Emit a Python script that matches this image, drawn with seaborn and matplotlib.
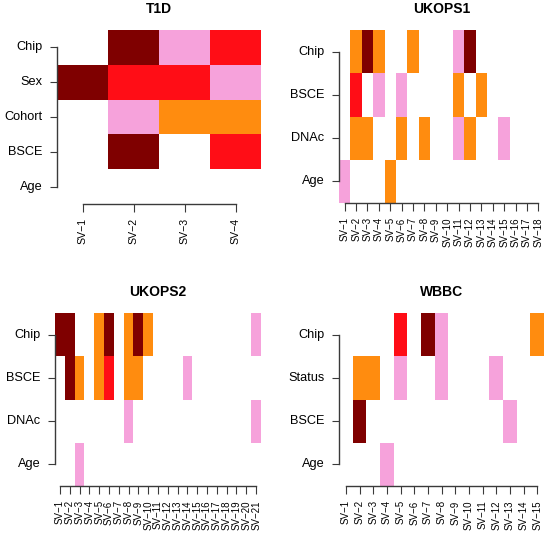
import matplotlib
matplotlib.use("Agg")
import matplotlib.pyplot as plt
import numpy as np
import seaborn as sns
from matplotlib.colors import ListedColormap

plt.rcParams['font.family'] = ['Liberation Sans', 'DejaVu Sans']

# levels: 0 = none, 1 = pink, 2 = orange, 3 = red, 4 = dark red
LEVEL_COLORS = ["#FFFFFF", "#F6A2DB", "#FF8C0F", "#FF0D16", "#7F0000"]
AXIS_COLOR = "#3a3a3a"

t1d_rows = ["Chip", "Sex", "Cohort", "BSCE", "Age"]
t1d_cols = [f"SV\u2212{i}" for i in range(1, 5)]
t1d_values = [
    [0, 4, 1, 3],
    [4, 3, 3, 1],
    [0, 1, 2, 2],
    [0, 4, 0, 3],
    [0, 0, 0, 0],
]

ukops1_rows = ["Chip", "BSCE", "DNAc", "Age"]
ukops1_cols = [f"SV\u2212{i}" for i in range(1, 19)]
ukops1_values = [
    [0, 2, 4, 2, 0, 0, 2, 0, 0, 0, 1, 4, 0, 0, 0, 0, 0, 0],
    [0, 3, 0, 1, 0, 1, 0, 0, 0, 0, 2, 0, 2, 0, 0, 0, 0, 0],
    [0, 2, 2, 0, 0, 2, 0, 2, 0, 0, 1, 2, 0, 0, 1, 0, 0, 0],
    [1, 0, 0, 0, 2, 0, 0, 0, 0, 0, 0, 0, 0, 0, 0, 0, 0, 0],
]

ukops2_rows = ["Chip", "BSCE", "DNAc", "Age"]
ukops2_cols = [f"SV\u2212{i}" for i in range(1, 22)]
ukops2_values = [
    [4, 4, 0, 0, 2, 4, 0, 2, 4, 2, 0, 0, 0, 0, 0, 0, 0, 0, 0, 0, 1],
    [0, 4, 2, 0, 2, 3, 0, 2, 2, 0, 0, 0, 0, 1, 0, 0, 0, 0, 0, 0, 0],
    [0, 0, 0, 0, 0, 0, 0, 1, 0, 0, 0, 0, 0, 0, 0, 0, 0, 0, 0, 0, 1],
    [0, 0, 1, 0, 0, 0, 0, 0, 0, 0, 0, 0, 0, 0, 0, 0, 0, 0, 0, 0, 0],
]

wbbc_rows = ["Chip", "Status", "BSCE", "Age"]
wbbc_cols = [f"SV\u2212{i}" for i in range(1, 16)]
wbbc_values = [
    [0, 0, 0, 0, 3, 0, 4, 1, 0, 0, 0, 0, 0, 0, 2],
    [0, 2, 2, 0, 1, 0, 0, 1, 0, 0, 0, 1, 0, 0, 0],
    [0, 4, 0, 0, 0, 0, 0, 0, 0, 0, 0, 0, 1, 0, 0],
    [0, 0, 0, 1, 0, 0, 0, 0, 0, 0, 0, 0, 0, 0, 0],
]

W, H = 544, 533


def draw_panel(fig, box, title, rows, cols, values, xfont):
    # box = (left, top, right, bottom) in pixels
    l, t, r, b = box
    ax = fig.add_axes([l / W, 1 - b / H, (r - l) / W, (b - t) / H])
    sns.heatmap(
        np.array(values), ax=ax, cmap=ListedColormap(LEVEL_COLORS),
        vmin=-0.5, vmax=4.5, cbar=False,
        xticklabels=cols, yticklabels=rows
    )
    for side in ("left", "bottom"):
        ax.spines[side].set_visible(True)
        ax.spines[side].set_color(AXIS_COLOR)
        ax.spines[side].set_linewidth(1.0)
    ax.spines["left"].set_bounds(0.5, len(rows) - 0.5)
    ax.spines["bottom"].set_bounds(0.5, len(cols) - 0.5)
    ax.tick_params(axis="both", width=0.8, color=AXIS_COLOR)
    ax.tick_params(axis="y", length=5, pad=5.5, labelsize=9.2, rotation=0)
    ax.tick_params(axis="x", length=6, pad=4.3, labelsize=xfont, rotation=90)
    ax.set_title(title, fontsize=10, fontweight="bold", pad=12)
    return ax


fig = plt.figure(figsize=(W / 100, H / 100), dpi=100)
draw_panel(fig, (57, 30, 261, 204), "T1D", t1d_rows, t1d_cols, t1d_values, 7.6)
draw_panel(fig, (339, 30, 544, 203), "UKOPS1", ukops1_rows, ukops1_cols, ukops1_values, 7.0)
draw_panel(fig, (55, 313, 261, 486), "UKOPS2", ukops2_rows, ukops2_cols, ukops2_values, 7.0)
draw_panel(fig, (339, 313, 544, 486), "WBBC", wbbc_rows, wbbc_cols, wbbc_values, 7.0)

fig.savefig("out.png", dpi=100)
